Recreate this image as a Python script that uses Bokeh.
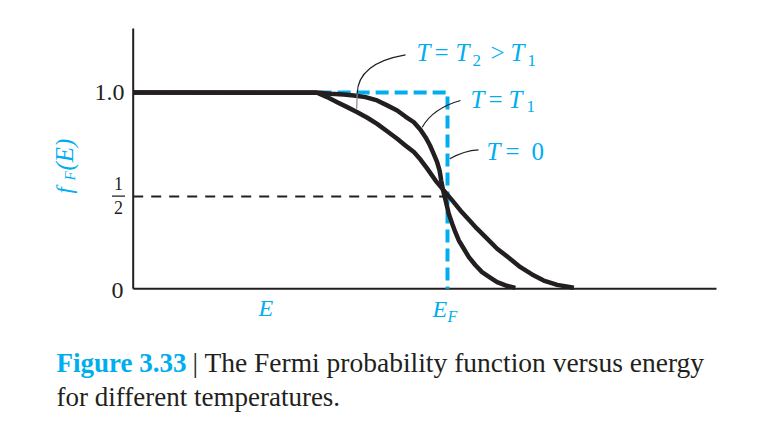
from bokeh.plotting import figure
from bokeh.models import Range1d, Label
from bokeh.embed import file_html
from bokeh.resources import INLINE

# ---- data (E in units of E_F, f_F(E) 0..1) ----
E_F = 1.0
HALF_LEVEL = 0.47
T1_E = [0.0, 0.58, 0.628, 0.670, 0.702, 0.739, 0.776, 0.808, 0.840, 0.866,
        0.893, 0.914, 0.930, 0.944, 0.956, 0.967, 0.975, 0.980, 0.986, 0.994,
        1.004, 1.015, 1.025, 1.036, 1.052, 1.068, 1.089, 1.110, 1.137, 1.158,
        1.185, 1.216]
T1_F = [1.0, 1.0, 0.993, 0.989, 0.984, 0.976, 0.959, 0.934, 0.908, 0.877,
        0.848, 0.810, 0.772, 0.731, 0.687, 0.645, 0.600, 0.551, 0.501, 0.450,
        0.382, 0.331, 0.288, 0.246, 0.204, 0.161, 0.120, 0.085, 0.056, 0.034,
        0.017, 0.005]
T2_E = [0.0, 0.585, 0.617, 0.649, 0.681, 0.713, 0.745, 0.776, 0.808, 0.840,
        0.866, 0.893, 0.914, 0.935, 0.962, 0.988, 1.015, 1.041, 1.068, 1.094,
        1.126, 1.158, 1.195, 1.232, 1.269, 1.306, 1.349, 1.402]
T2_F = [1.0, 0.998, 0.976, 0.950, 0.925, 0.899, 0.871, 0.840, 0.802, 0.764,
        0.730, 0.696, 0.658, 0.613, 0.551, 0.501, 0.450, 0.399, 0.351, 0.306,
        0.255, 0.204, 0.158, 0.110, 0.073, 0.042, 0.020, 0.005]
T0_E = [0.59, E_F, E_F]
T0_F = [1.0, 1.0, 0.0]
AXIS_E_MAX = 1.856
AXIS_F_MAX = 1.325

BLACK = "#231f20"
CYAN = "#00aeef"
SERIF = "Liberation Serif"

# page-pixel -> data helpers (for annotation placement only)
def dx(X):
    return (X - 132.7) / 314.3

def dy(Y):
    return (288.3 - Y) / 196.4

p = figure(width=750, height=418,
           x_range=Range1d(dx(0), dx(750)), y_range=Range1d(dy(418), dy(0)),
           output_backend="svg", toolbar_location=None,
           min_border=0, min_border_left=0, min_border_right=0,
           min_border_top=0, min_border_bottom=0)
p.xaxis.visible = False
p.yaxis.visible = False
p.grid.visible = False
p.outline_line_color = None
p.background_fill_color = "white"
p.border_fill_color = "white"

# half-level dashed reference
p.line([0, E_F], [HALF_LEVEL, HALF_LEVEL], line_color=BLACK, line_width=2,
       line_dash="10 8")
# axes
p.line([0, 0], [0, AXIS_F_MAX], line_color=BLACK, line_width=2)
p.line([0, AXIS_E_MAX], [0, 0], line_color=BLACK, line_width=2)
# T = 0 step
p.line(T0_E, T0_F, line_color=CYAN, line_width=4, line_dash="13 6",
       line_join="miter")
# T1, T2 curves
p.line(T2_E, T2_F, line_color=BLACK, line_width=4.5, line_join="round")
p.line(T1_E, T1_F, line_color=BLACK, line_width=4.5, line_join="round")

# leader lines
p.bezier(x0=[dx(405), dx(460), dx(478)], y0=[dy(54.3), dy(100), dy(149.3)],
         x1=[dx(356.7), dx(421.7), dx(449.3)], y1=[dy(93.3), dy(126.7), dy(158.3)],
         cx0=[dx(372), dx(442), dx(465)], cy0=[dy(60), dy(105), dy(150)],
         cx1=[dx(357), dx(429), dx(455)], cy1=[dy(74), dy(114), dy(155)],
         line_color=BLACK, line_width=1.2)
p.line([dx(356.7), dx(356.2)], [dy(93.3), dy(108.3)], line_color="#888888",
       line_width=1.2)


def lab(X, Y, text, size, style="normal", color=CYAN, align="left",
        baseline="middle", angle=0.0):
    p.add_layout(Label(x=dx(X), y=dy(Y), text=text, text_font=SERIF,
                       text_font_size=f"{size}px", text_font_style=style,
                       text_color=color, text_align=align,
                       text_baseline=baseline, angle=angle))


# curve annotations (Y = visual centre of the glyphs)
lab(416, 52, "T", 25, "italic")
lab(434, 52, "=", 25)
lab(455, 52, "T", 25, "italic")
lab(472, 60, "2", 17)
lab(490, 52, ">", 25)
lab(510, 52, "T", 25, "italic")
lab(527, 60, "1", 17)

lab(470, 99, "T", 25, "italic")
lab(488, 99, "=", 25)
lab(508, 99, "T", 25, "italic")
lab(526, 106, "1", 17)

lab(486, 151, "T", 25, "italic")
lab(505, 151, "=", 25)
lab(531, 151, "0", 25)

# y tick labels
lab(124, 92, "1.0", 24, color=BLACK, align="right")
lab(123, 290, "0", 24, color=BLACK, align="right")
lab(118, 182.5, "1", 18, color=BLACK, align="center")
lab(118, 206.5, "2", 18, color=BLACK, align="center")
p.line([dx(111.5), dx(124.5)], [dy(195.7), dy(195.7)], line_color=BLACK,
       line_width=1.3)

# y axis title  f_F(E)
lab(64, 193, "f", 23, "italic", angle=1.5708)
lab(69, 180, "F", 15, "italic", angle=1.5708)
lab(64, 170, "(E)", 25, "italic", angle=1.5708)

# x labels
lab(258, 307, "E", 24, "italic")
lab(432, 308, "E", 24, "italic")
lab(447, 316, "F", 16, "italic")

# caption
lab(56, 362, "Figure 3.33", 27, "bold")
lab(192, 362, "| The Fermi probability function versus energy", 27.5, color=BLACK)
lab(56, 396.5, "for different temperatures.", 27, color=BLACK)

open("out.html", "w").write(file_html(p, INLINE))
